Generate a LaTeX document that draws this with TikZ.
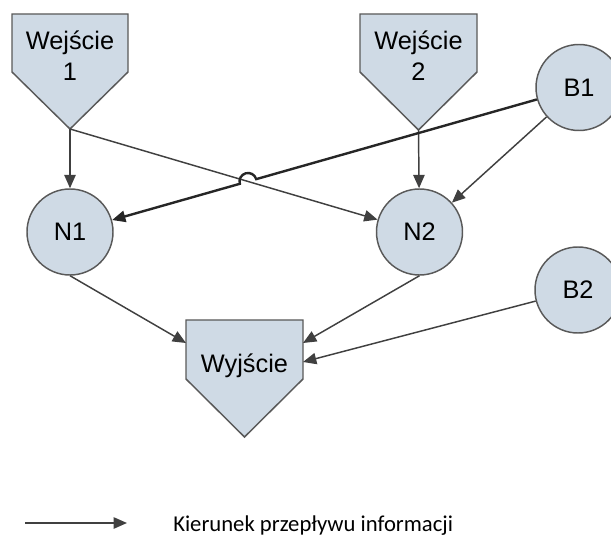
\documentclass[tikz,border=0pt]{standalone}
\usepackage{fontspec}
\setmainfont{Liberation Sans}
\newfontfamily\legendfont{Carlito}
\usetikzlibrary{arrows.meta,calc}
\definecolor{shapefill}{HTML}{CFDAE5}
\definecolor{shapeedge}{HTML}{595959}
\definecolor{wire}{HTML}{404040}
\begin{document}
\begin{tikzpicture}[x=0.75pt,y=-0.75pt,
  shapebox/.style={draw=shapeedge,fill=shapefill,line width=1.1pt,line join=miter},
  neuron/.style={circle,shapebox,minimum size=64.5pt,inner sep=0pt,
    font=\fontsize{19}{22}\selectfont},
  lbl/.style={font=\fontsize{19}{23}\selectfont,align=center,inner sep=0pt},
  tip/.style={-{Triangle[length=10pt,width=8.5pt]}},
  flow/.style={draw=wire,line width=1.1pt,tip},
  boldflow/.style={draw=black!85,line width=1.8pt,tip}]
\clip (0,0) rectangle (611,538);

% input blocks
\draw[shapebox] (12,14) -- (128,14) -- (128,72) -- (70,129) -- (12,72) -- cycle;
\coordinate (w1tip) at (70,129);
\node[lbl] (w1) at (70,56) {Wejście\\1};

\draw[shapebox] (360,14) -- (477,14) -- (477,72) -- (418.5,130) -- (360,72) -- cycle;
\coordinate (w2tip) at (418.5,130);
\node[lbl] (w2) at (418.5,56) {Wejście\\2};

% output block
\draw[shapebox] (186,320) -- (303,320) -- (303,379) -- (244.5,437) -- (186,379) -- cycle;
\node[lbl,anchor=base] (wy) at (244.5,373) {Wyjście};
\coordinate (wyL) at (186,343);
\coordinate (wyR) at (303,343);
\coordinate (wyR2) at (303,362);

% neurons and biases
\node[neuron] (n1) at (70,232) {N1};
\node[neuron] (n2) at (419.5,232) {N2};
\node[neuron] (b1) at (579,87.5) {B1};
\node[neuron] (b2) at (578,290) {B2};

% connections
\draw[flow] (w1tip) -- (n1);
\draw[flow] (w1tip) -- (n2);
\draw[flow] (w2tip) -- (n2);
\draw[flow] (b1) -- (n2);
\coordinate (hop) at (intersection of w1tip--n2 and b1--n1);
\draw[boldflow] (b1) -- ($(hop)!6.375pt!(b1)$)
  arc[start angle=-15.85, end angle=-195.85, radius=8.5] -- (n1);
\draw[flow] (n1.south) -- (wyL);
\draw[flow] (n2.south) -- (wyR);
\draw[flow] (b2) -- (wyR2);

% legend
\coordinate (legA) at (25,523);
\coordinate (legB) at (127,523);
\draw[flow] (legA) -- (legB);
\node[anchor=base west,inner sep=0pt,font=\legendfont\fontsize{17}{20}\selectfont]
  (leg) at (173,532) {Kierunek przepływu informacji};
\end{tikzpicture}
\end{document}
